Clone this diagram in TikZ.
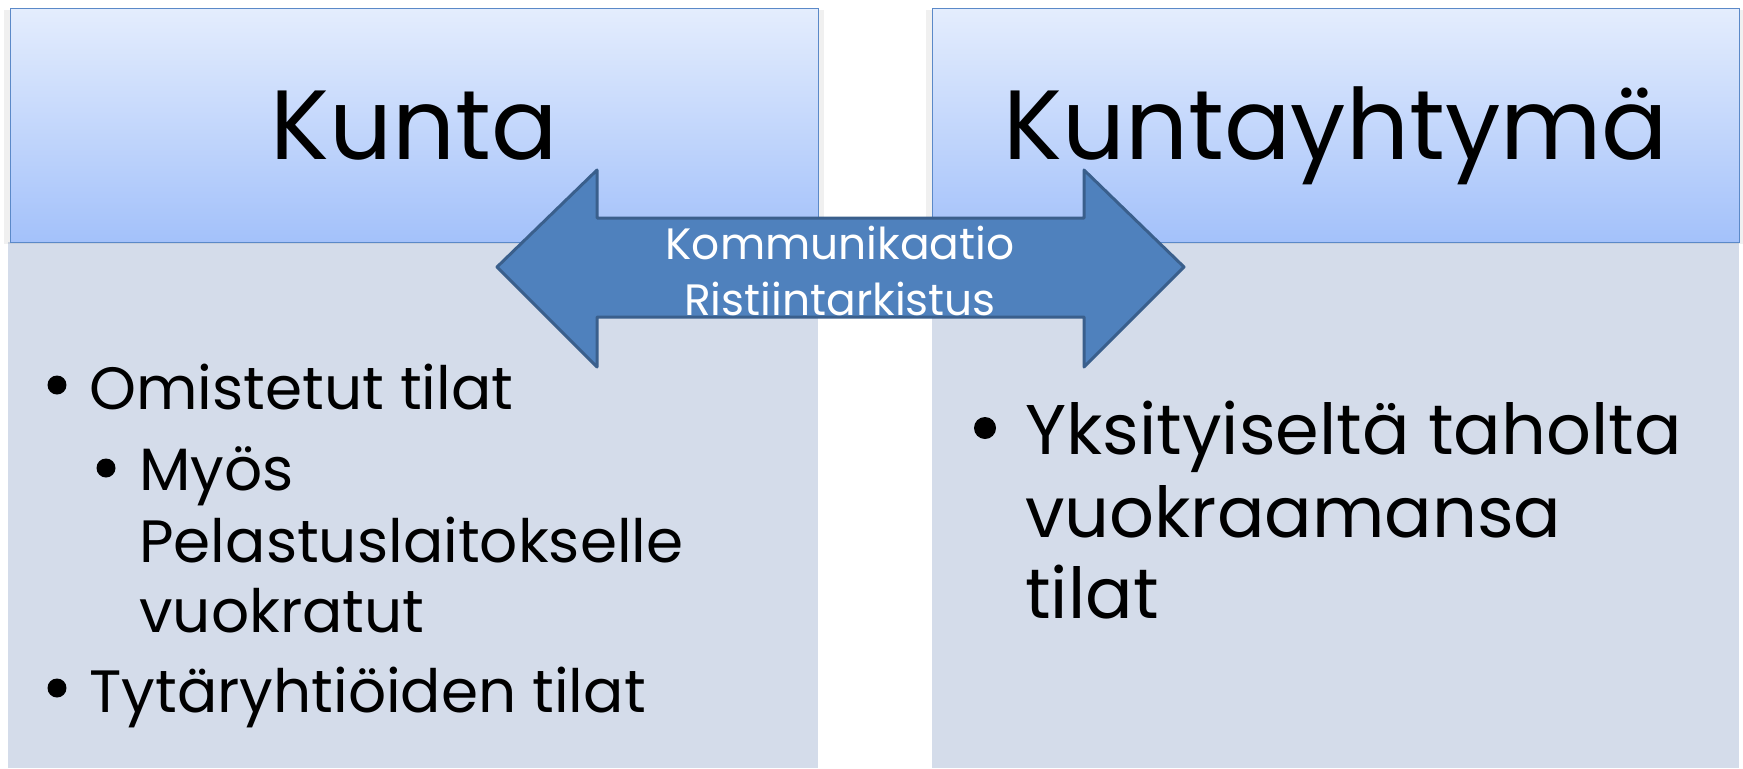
\documentclass[tikz,border=0pt]{standalone}
\usepackage{fontspec}
\setmainfont{Poppins}
\usetikzlibrary{positioning}
\definecolor{headtop}{HTML}{E4EDFD}
\definecolor{headbot}{HTML}{A3C1FA}
\definecolor{bodyfill}{HTML}{D4DCEA}
\definecolor{boxline}{HTML}{5B89C8}
\definecolor{arrowfill}{HTML}{4F81BD}
\definecolor{arrowline}{HTML}{3A5F8C}
\tikzset{
    header-box/.style = {draw=boxline, line width=0.6pt, top color=headtop, bottom color=headbot, anchor=north west, inner sep=0pt, minimum height=4.68cm, text height=39pt, text depth=0pt, font=\fontsize{56}{60}\selectfont},
    body-box/.style = {fill=bodyfill, anchor=north west, inner sep=0pt, minimum height=10.52cm},
    item-left/.style = {anchor=base west, inner sep=0pt, font=\fontsize{34}{40}\selectfont},
    item-right/.style = {anchor=base west, inner sep=0pt, font=\fontsize{40}{46}\selectfont},
    dot/.style = {circle, fill=black, inner sep=0pt, minimum size=#1},
    arrow-text/.style = {align=center, text=white, inner sep=0pt, font=\fontsize{25}{32}\selectfont},
}

\begin{document}
\begin{tikzpicture}[x=0.02cm, y=-0.02cm]
\useasboundingbox (0,0) rectangle (1743,768);
% bodies and headers
\node[body-box, minimum width=16.2cm] (kunta-body) at (8,242) {};
\node[body-box, minimum width=16.14cm] (yhtyma-body) at (932,242) {};
\fill[black, opacity=0.06] (4,10) rectangle (824,244);
\fill[black, opacity=0.06] (926,10) rectangle (1743,244);
\node[header-box, minimum width=16.16cm] (kunta) at (10,8) {Kunta};
\node[header-box, minimum width=16.14cm] (yhtyma) at (932,8) {Kuntayhtymä};

% double arrow between the columns
\coordinate (tip-l) at (497,267);
\coordinate (tip-r) at (1184,267);
\draw[arrowline, fill=arrowfill, line width=1.7pt, line join=round]
    (tip-l) -- (597,170) -- (597,218) -- (1084,218) -- (1084,170) -- (tip-r)
    -- (1084,367) -- (1084,317) -- (597,317) -- (597,367) -- cycle;
\node[arrow-text] (viesti) at (840,271) {Kommunikaatio\\Ristiintarkistus};

% left list
\node[dot=0.38cm] (dot-a) at (57,385) {};
\node[item-left] (omistetut) at (89,409) {Omistetut tilat};
\node[dot=0.38cm] (dot-b) at (106,468) {};
\node[item-left] (myos) at (139,490) {Myös};
\node[item-left] (pelastus) at (139,562) {Pelastuslaitokselle};
\node[item-left] (vuokratut) at (139,632) {vuokratut};
\node[dot=0.38cm] (dot-c) at (57,688) {};
\node[item-left] (tytar) at (89,712) {Tytäryhtiöiden tilat};

% right list
\node[dot=0.44cm] (dot-d) at (985,428) {};
\node[item-right] (yksityinen) at (1025,454) {Yksityiseltä taholta};
\node[item-right] (vuokraama) at (1025,537) {vuokraamansa};
\node[item-right] (tilat) at (1025,618) {tilat};
\end{tikzpicture}
\end{document}
